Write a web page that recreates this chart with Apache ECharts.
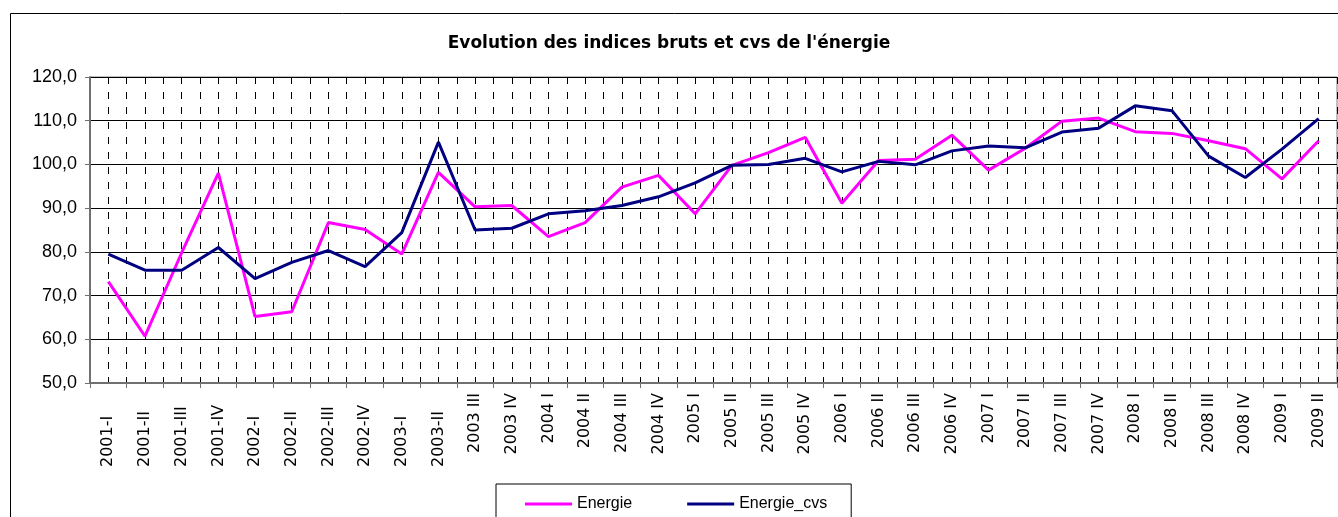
<!DOCTYPE html>
<html>
<head>
<meta charset="utf-8">
<script src="https://cdn.jsdelivr.net/npm/echarts@6/dist/echarts.min.js"></script>
<style>
html,body{margin:0;padding:0;background:#fff;}
#chart{width:1338px;height:517px;}
</style>
</head>
<body>
<div id="chart"></div>
<script>
const titleText = "Evolution des indices bruts et cvs de l'énergie";
const categories = ['2001-I','2001-II','2001-III','2001-IV','2002-I','2002-II','2002-III','2002-IV','2003-I','2003-II',
  '2003 III','2003 IV','2004 I','2004 II','2004 III','2004 IV','2005 I','2005 II','2005 III','2005 IV',
  '2006 I','2006 II','2006 III','2006 IV','2007 I','2007 II','2007 III','2007 IV','2008 I','2008 II',
  '2008 III','2008 IV','2009 I','2009 II'];
const seriesNames = ['Energie','Energie_cvs'];
const energie = [73.2, 60.7, 79.8, 98.0, 65.2, 66.3, 86.7, 85.1, 79.5, 98.2,
  90.3, 90.6, 83.5, 86.7, 94.8, 97.5, 88.7, 99.8, 102.7, 106.2,
  91.1, 100.9, 101.2, 106.7, 98.7, 103.7, 109.9, 110.6, 107.5, 107.1,
  105.4, 103.6, 96.7, 105.4];
const energieCvs = [79.5, 75.8, 75.8, 81.0, 73.9, 77.6, 80.3, 76.6, 84.4, 105.1,
  85.0, 85.4, 88.7, 89.4, 90.6, 92.6, 95.8, 99.8, 100.0, 101.4,
  98.3, 100.7, 99.9, 103.1, 104.2, 103.8, 107.4, 108.3, 113.4, 112.3,
  101.9, 97.0, 103.5, 110.5];
const yMin = 50, yMax = 120, yStep = 10;

const chart = echarts.init(document.getElementById('chart'), null, {renderer: 'canvas'});
const halfSteps = categories.length * 2;
const xFont = 'DejaVu Sans';

chart.setOption({
  animation: false,
  backgroundColor: '#ffffff',
  graphic: [{
    type: 'rect', left: 8, top: 11, z: -10, silent: true,
    shape: {width: 1400, height: 600},
    style: {fill: 'none', stroke: '#000', lineWidth: 1}
  }],
  title: {
    text: titleText, left: 'center', top: 30,
    textStyle: {fontFamily: 'DejaVu Sans', fontWeight: 'bold', fontSize: 17, color: '#000'}
  },
  legend: {
    data: seriesNames, left: 496, top: 484, icon: 'rect',
    padding: [12, 24, 10, 29], itemGap: 55, itemWidth: 47, itemHeight: 3,
    borderColor: '#000', borderWidth: 1, backgroundColor: '#fff',
    textStyle: {fontFamily: 'Liberation Sans', fontSize: 16, color: '#000'}
  },
  grid: {left: 90, right: 1, top: 77, bottom: 134, show: true, borderColor: '#808080', borderWidth: 1, backgroundColor: 'transparent'},
  xAxis: [{
    type: 'category', data: categories, boundaryGap: true,
    axisLine: {show: true, lineStyle: {color: '#707070', width: 2}},
    axisTick: {show: true, length: 5, lineStyle: {color: '#707070', width: 1}},
    splitLine: {show: false},
    axisLabel: {
      rotate: 90, margin: 10, interval: 0,
      fontFamily: xFont, fontSize: 16, color: '#000',
      formatter: function (v) { return v.indexOf('-') >= 0 ? '{h|' + v + '}' : '{s|' + v + '}'; },
      rich: {
        h: {width: 74, align: 'left', fontFamily: xFont, fontSize: 16, color: '#000'},
        s: {fontFamily: xFont, fontSize: 16, color: '#000'}
      }
    }
  }, {
    type: 'value', position: 'top', min: 0, max: halfSteps, interval: 1,
    axisLine: {show: false}, axisTick: {show: false}, axisLabel: {show: false},
    splitLine: {show: true, lineStyle: {color: '#000', width: 1, type: [7, 8]}}
  }],
  yAxis: {
    type: 'value', min: yMin, max: yMax, interval: yStep,
    axisLine: {show: true, lineStyle: {color: '#707070', width: 2}},
    axisTick: {show: true, length: 5, lineStyle: {color: '#707070', width: 1}},
    axisLabel: {
      margin: 13, fontFamily: 'Liberation Sans', fontSize: 18, color: '#000',
      formatter: function (v) { return v.toFixed(1).replace('.', ','); }
    },
    splitLine: {show: true, lineStyle: {color: '#000', width: 1}}
  },
  series: [{
    name: seriesNames[0], type: 'line', data: energie, xAxisIndex: 0,
    symbol: 'none', lineStyle: {color: '#ff00ff', width: 3}, itemStyle: {color: '#ff00ff'}
  }, {
    name: seriesNames[1], type: 'line', data: energieCvs, xAxisIndex: 0,
    symbol: 'none', lineStyle: {color: '#000080', width: 3}, itemStyle: {color: '#000080'}
  }]
});
</script>
</body>
</html>
